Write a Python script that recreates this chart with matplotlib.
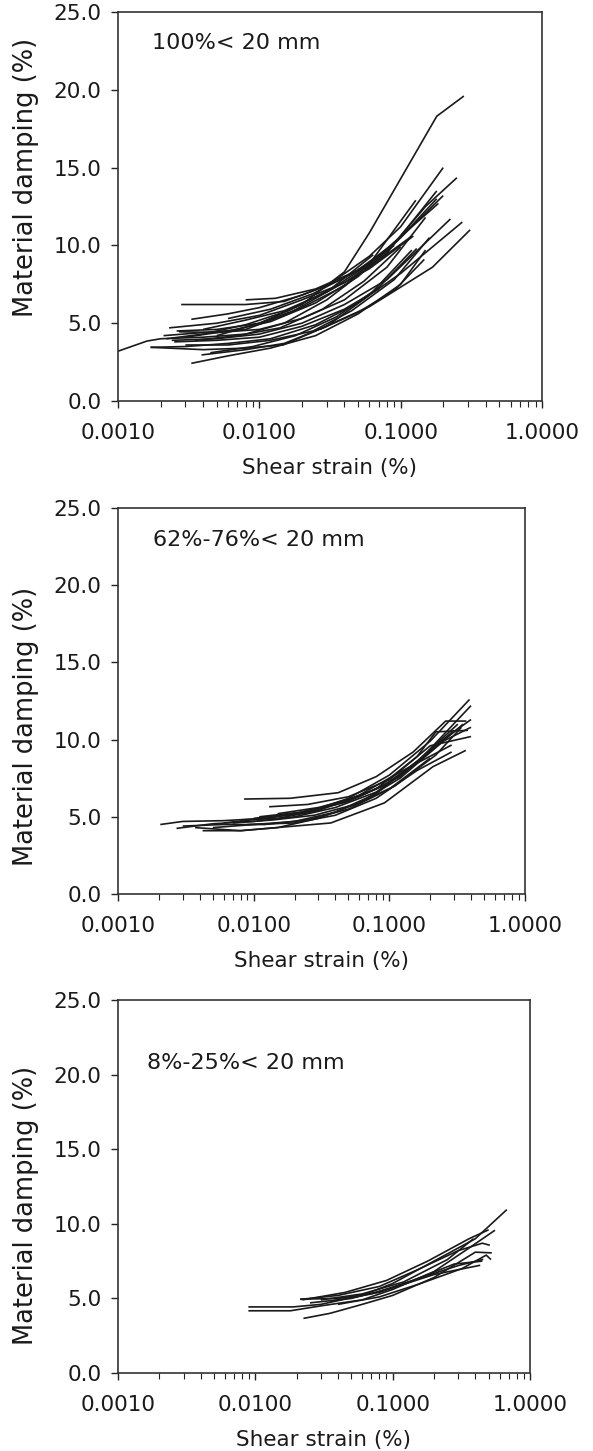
import matplotlib
matplotlib.use("Agg")
import matplotlib.pyplot as plt
from matplotlib.ticker import FixedLocator, FixedFormatter, LogLocator, NullFormatter

plt.rcParams['font.family'] = ['DejaVu Sans']

# ---------------- data ----------------
labels = ["100%< 20 mm", "62%-76%< 20 mm", "8%-25%< 20 mm"]
x_ticks = [0.001, 0.01, 0.1, 1.0]
x_tick_labels = ["0.0010", "0.0100", "0.1000", "1.0000"]
y_ticks = [0, 5, 10, 15, 20, 25]
y_tick_labels = ["0.0", "5.0", "10.0", "15.0", "20.0", "25.0"]

# Panel 1: 100% < 20 mm
p1_x = [
    [0.001, 0.0016, 0.002, 0.004, 0.008, 0.015, 0.03, 0.06, 0.12],
    [0.005, 0.01, 0.02, 0.04, 0.06, 0.18, 0.28],
    [0.0028, 0.0045, 0.008, 0.015, 0.03, 0.06, 0.1, 0.2],
    [0.0033, 0.006, 0.01, 0.02, 0.04, 0.08, 0.15, 0.25],
    [0.0023, 0.005, 0.01, 0.02, 0.04, 0.08, 0.18],
    [0.0026, 0.005, 0.01, 0.02, 0.04, 0.08, 0.185],
    [0.0021, 0.004, 0.008, 0.016, 0.03, 0.06, 0.128],
    [0.0024, 0.005, 0.01, 0.02, 0.04, 0.08, 0.225],
    [0.0017, 0.003, 0.006, 0.012, 0.025, 0.05, 0.1, 0.273],
    [0.0017, 0.004, 0.008, 0.0147, 0.025, 0.06, 0.168, 0.31],
    [0.0033, 0.006, 0.012, 0.025, 0.05, 0.1, 0.15],
    [0.0039, 0.008, 0.015, 0.03, 0.06, 0.12],
    [0.0027, 0.005, 0.01, 0.02, 0.04, 0.08, 0.15],
    [0.004, 0.008, 0.015, 0.03, 0.06, 0.123],
    [0.0025, 0.005, 0.01, 0.02, 0.04, 0.07],
    [0.003, 0.006, 0.012, 0.025, 0.05, 0.1, 0.2],
    [0.0035, 0.007, 0.014, 0.028, 0.055, 0.1],
    [0.0045, 0.009, 0.018, 0.035, 0.07, 0.13],
    [0.0268, 0.05, 0.09, 0.147],
    [0.006, 0.012, 0.024, 0.048, 0.095, 0.18],
    [0.0022, 0.004, 0.008, 0.016, 0.032, 0.064],
    [0.008, 0.013, 0.025, 0.05, 0.09],
    [0.003, 0.006, 0.012, 0.024, 0.045, 0.09, 0.16],
]
p1_y = [
    [3.2, 3.85, 4.0, 4.1, 4.3, 5.0, 6.5, 8.6, 10.6],
    [4.2, 5.0, 6.2, 8.3, 10.8, 18.3, 19.6],
    [6.2, 6.2, 6.2, 6.4, 7.4, 9.3, 11.2, 15.0],
    [5.25, 5.6, 6.0, 6.8, 7.9, 9.6, 12.5, 14.35],
    [4.7, 5.0, 5.5, 6.5, 7.6, 9.5, 13.5],
    [4.5, 4.6, 5.0, 6.0, 7.4, 9.8, 12.7],
    [4.2, 4.4, 4.6, 5.6, 7.0, 8.8, 12.9],
    [3.9, 4.0, 4.3, 5.0, 6.2, 7.8, 11.7],
    [3.45, 3.5, 3.7, 4.0, 4.9, 6.3, 8.2, 11.5],
    [3.45, 3.3, 3.4, 3.6, 4.5, 6.06, 8.6, 11.0],
    [2.42, 2.9, 3.4, 4.2, 5.6, 7.5, 9.7],
    [2.96, 3.3, 3.7, 4.8, 6.8, 9.7],
    [4.45, 4.4, 4.6, 5.3, 6.5, 8.6, 11.8],
    [4.6, 5.2, 5.8, 7.0, 8.5, 10.6],
    [3.8, 3.9, 4.1, 4.8, 5.9, 7.2],
    [4.1, 4.5, 5.1, 6.3, 8.0, 10.5, 13.2],
    [3.9, 4.2, 4.7, 5.9, 7.7, 9.9],
    [3.1, 3.5, 4.2, 5.4, 7.3, 9.8],
    [4.6, 5.7, 7.1, 9.1],
    [5.3, 5.9, 6.9, 8.3, 10.3, 13.0],
    [4.0, 4.3, 4.9, 5.8, 7.2, 9.4],
    [6.5, 6.6, 7.2, 8.4, 10.0],
    [3.6, 3.6, 3.9, 4.5, 5.8, 7.8, 10.5],
]

# Panel 2: 62%-76% < 20 mm
p2_x = [
    [0.00205, 0.003, 0.006, 0.012, 0.025, 0.05, 0.1, 0.2, 0.39],
    [0.0027, 0.005, 0.01, 0.02, 0.04, 0.08, 0.16, 0.4],
    [0.0042, 0.008, 0.015, 0.03, 0.06, 0.12, 0.25, 0.4],
    [0.0085, 0.0186, 0.042, 0.08, 0.15, 0.26, 0.37],
    [0.013, 0.025, 0.05, 0.1, 0.2, 0.4],
    [0.0037, 0.008, 0.037, 0.092, 0.21, 0.366],
    [0.008, 0.015, 0.03, 0.06, 0.12, 0.288],
    [0.009, 0.02, 0.04, 0.08, 0.16, 0.288],
    [0.006, 0.012, 0.025, 0.05, 0.1, 0.2, 0.35],
    [0.01, 0.02, 0.04, 0.08, 0.16, 0.22, 0.38],
    [0.005, 0.01, 0.02, 0.04, 0.08, 0.16, 0.32],
    [0.007, 0.014, 0.028, 0.056, 0.11, 0.22, 0.34],
    [0.011, 0.022, 0.045, 0.09, 0.18, 0.3],
    [0.003, 0.006, 0.012, 0.025, 0.05, 0.1, 0.2],
    [0.015, 0.03, 0.06, 0.12, 0.24, 0.4],
]
p2_y = [
    [4.5, 4.7, 4.75, 4.9, 5.3, 6.2, 7.7, 9.9, 12.6],
    [4.25, 4.55, 4.7, 5.0, 5.6, 6.6, 8.5, 12.2],
    [4.1, 4.1, 4.3, 4.9, 5.9, 7.5, 9.9, 10.8],
    [6.15, 6.2, 6.56, 7.6, 9.2, 11.2, 11.2],
    [5.65, 5.8, 6.3, 7.4, 9.6, 10.2],
    [4.3, 4.1, 4.6, 5.9, 8.25, 9.3],
    [4.8, 4.9, 5.4, 6.4, 7.9, 9.65],
    [4.5, 4.6, 5.1, 6.2, 8.0, 9.2],
    [4.6, 4.9, 5.3, 6.0, 7.2, 9.2, 11.0],
    [4.9, 5.2, 5.8, 6.8, 8.9, 10.5, 10.6],
    [4.3, 4.5, 4.7, 5.3, 6.5, 8.6, 11.0],
    [4.6, 4.8, 5.1, 5.8, 7.0, 9.0, 10.8],
    [5.0, 5.3, 5.9, 7.0, 8.9, 10.6],
    [4.4, 4.5, 4.5, 4.8, 5.5, 6.8, 8.8],
    [5.2, 5.6, 6.3, 7.6, 9.9, 11.3],
]

# Panel 3: 8%-25% < 20 mm
p3_x = [
    [0.0089, 0.0189, 0.03, 0.06, 0.1, 0.2, 0.4, 0.678],
    [0.0089, 0.018, 0.03, 0.06, 0.1, 0.2, 0.35, 0.556],
    [0.0212, 0.04, 0.08, 0.15, 0.3, 0.45, 0.51],
    [0.0224, 0.035, 0.06, 0.1, 0.2, 0.4, 0.527],
    [0.0212, 0.04, 0.08, 0.15, 0.3, 0.457],
    [0.025, 0.05, 0.1, 0.2, 0.434],
    [0.03, 0.06, 0.12, 0.25, 0.388],
    [0.022, 0.045, 0.09, 0.18, 0.36, 0.5],
    [0.035, 0.07, 0.14, 0.28, 0.45],
    [0.04, 0.08, 0.16, 0.32, 0.48, 0.52],
]
p3_y = [
    [4.43, 4.43, 4.6, 5.2, 6.0, 7.5, 9.0, 10.95],
    [4.17, 4.17, 4.5, 4.9, 5.6, 6.8, 8.3, 9.57],
    [4.93, 5.2, 5.8, 6.9, 8.2, 8.7, 8.56],
    [3.66, 4.0, 4.6, 5.2, 6.4, 8.1, 8.05],
    [4.95, 5.0, 5.4, 6.3, 7.2, 7.62],
    [4.7, 5.0, 5.7, 6.6, 7.22],
    [4.9, 5.3, 6.1, 7.6, 9.0],
    [4.9, 5.4, 6.2, 7.5, 9.0, 9.6],
    [4.8, 5.3, 6.2, 7.3, 7.5],
    [4.6, 5.1, 6.0, 7.0, 7.9, 7.6],
]

panels = [(p1_x, p1_y), (p2_x, p2_y), (p3_x, p3_y)]

# ---------------- layout ----------------
W, H = 593, 1451
fig = plt.figure(figsize=(W / 100, H / 100), dpi=100)

# axes boxes in pixels: left, top, right, bottom
boxes = [(118, 12, 542, 401), (118, 508, 525, 894), (118, 1000, 530, 1373)]
label_pos = [(152, 43), (153, 540), (147, 1063)]
ylabel_center = [177, 726, 1205]   # pixel y of y-label centre
ylabel_x = 26                       # pixel x of y-label centre
xlabel_offset = 67                  # px below axes bottom

FS_TICK = 15.5
FS_X = 15.5
FS_Y = 18.5
FS_ANN = 16
for (xs, ys), (l, t, r, b), lab, (lx, ly), yc in zip(panels, boxes, labels, label_pos, ylabel_center):
    w, h = r - l, b - t
    ax = fig.add_axes([l / W, 1 - b / H, w / W, h / H])
    for xx, yy in zip(xs, ys):
        ax.plot(xx, yy, color='#1a1a1a', lw=1.2, solid_capstyle='butt')
    ax.set_xscale('log')
    ax.set_xlim(0.001, 1.0)
    ax.set_ylim(0, 25)
    ax.xaxis.set_major_locator(FixedLocator(x_ticks))
    ax.xaxis.set_major_formatter(FixedFormatter(x_tick_labels))
    ax.xaxis.set_minor_locator(LogLocator(base=10, subs=range(2, 10)))
    ax.xaxis.set_minor_formatter(NullFormatter())
    ax.yaxis.set_major_locator(FixedLocator(y_ticks))
    ax.yaxis.set_major_formatter(FixedFormatter(y_tick_labels))
    ax.tick_params(axis='both', which='major', direction='out', length=5, width=1.0,
                   labelsize=FS_TICK, color='#222222', labelcolor='#1a1a1a')
    ax.tick_params(axis='x', which='major', pad=11)
    ax.tick_params(axis='y', which='major', pad=7)
    ax.tick_params(axis='x', which='minor', direction='out', length=4, width=0.8, color='#222222')
    for s in ax.spines.values():
        s.set_linewidth(1.2)
        s.set_color('#333333')
    ax.set_xlabel("Shear strain (%)", fontsize=FS_X, color='#1a1a1a')
    ax.xaxis.label.set_verticalalignment('center')
    ax.xaxis.set_label_coords(0.5, -xlabel_offset / h)
    ax.set_ylabel("Material damping (%)", fontsize=FS_Y, color='#1a1a1a')
    ax.yaxis.label.set_verticalalignment('center')
    ax.yaxis.set_label_coords((ylabel_x - l) / w, (b - yc) / h)
    fig.text(lx / W, 1 - ly / H, lab, fontsize=FS_ANN, ha='left', va='center', color='#1a1a1a')

fig.savefig("out.png", dpi=100)
